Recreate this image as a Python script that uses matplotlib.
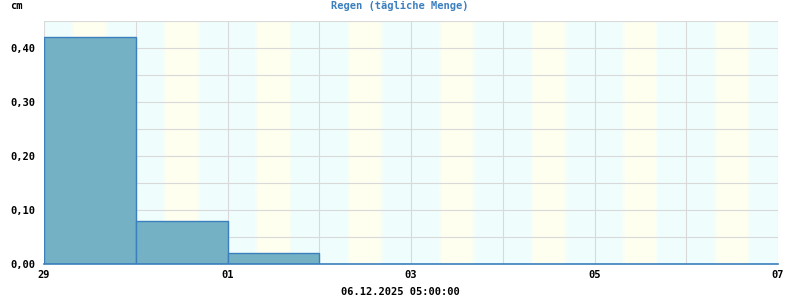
import numpy as np
import matplotlib
matplotlib.use("Agg")
import matplotlib.pyplot as plt
import matplotlib.dates as mdates
from datetime import datetime, timedelta

# Tagesmengen Regen (cm)
days = [datetime(2025, 11, 29), datetime(2025, 11, 30), datetime(2025, 12, 1)]
rain = [0.42, 0.08, 0.02]

# Tageslicht (Sonnenaufgang / -untergang, Stunden)
light_days = [datetime(2025, 11, 29) + timedelta(days=i) for i in range(8)]
sunrise = [7.9, 7.9, 7.9, 8.0, 8.0, 8.0, 8.0, 8.1]
sunset = [16.0, 16.0, 16.0, 16.0, 16.0, 16.0, 16.0, 16.0]

tick_days = [datetime(2025, 11, 29), datetime(2025, 12, 1), datetime(2025, 12, 3),
             datetime(2025, 12, 5), datetime(2025, 12, 7)]
yticks = [0.0, 0.1, 0.2, 0.3, 0.4]

mono = "DejaVu Sans Mono"
plt.rcParams['font.family'] = mono

fig = plt.figure(figsize=(8, 3), dpi=100)
ax = fig.add_axes([44 / 800, 36 / 300, 734 / 800, 243 / 300])
ax.set_facecolor("#effdfd")

# Tag/Nacht Hintergrund
for d, sr, ss in zip(light_days, sunrise, sunset):
    x0 = mdates.date2num(d + timedelta(hours=sr))
    x1 = mdates.date2num(d + timedelta(hours=ss))
    ax.axvspan(x0 - 0.03, x1 + 0.03, color="#f7fef6", lw=0, zorder=0)
    ax.axvspan(x0, x1, color="#fffff0", lw=0, zorder=0)

ax.bar(days, rain, width=1.0, align="edge", color="#74b1c4",
       edgecolor="#3b7fbe", linewidth=1.0, zorder=3)

ax.set_xlim(datetime(2025, 11, 29), datetime(2025, 12, 7))
ax.set_ylim(0, 0.45)

ax.set_xticks([mdates.date2num(d) for d in tick_days])
ax.set_xticklabels([d.strftime("%d") for d in tick_days])
ax.set_xticks(mdates.date2num([datetime(2025, 11, 29) + timedelta(days=i) for i in range(9)]),
              minor=True)
ax.set_yticks(yticks)
ax.set_yticklabels([f"{v:.2f}".replace(".", ",") for v in yticks])
ax.set_yticks(np.arange(0, 0.451, 0.05), minor=True)

ax.grid(True, which="both", color="#d9d9d9", linewidth=0.8, zorder=1)
ax.set_axisbelow(True)

ax.tick_params(which="both", length=0)
ax.tick_params(axis="x", pad=4, labelsize=7.5)
ax.tick_params(axis="y", pad=6, labelsize=7.5)
for lab in ax.get_xticklabels() + ax.get_yticklabels():
    lab.set_fontweight("bold")

for side in ["top", "left", "right"]:
    ax.spines[side].set_visible(False)
ax.spines["bottom"].set_color("#3b7fbe")
ax.spines["bottom"].set_linewidth(1.2)
ax.spines["bottom"].set_zorder(4)

fig.text(0.5, 1 - 6 / 300, "Regen (tägliche Menge)", ha="center", va="center",
         color="#3b7fbe", fontsize=7.5, fontweight="bold")
fig.text(10 / 800, 1 - 6 / 300, "cm", ha="left", va="center",
         fontsize=7.5, fontweight="bold")
fig.text(0.5, 1 - 292 / 300, "06.12.2025 05:00:00", ha="center", va="center",
         fontsize=7.5, fontweight="bold")

fig.savefig("out.png", dpi=100)
